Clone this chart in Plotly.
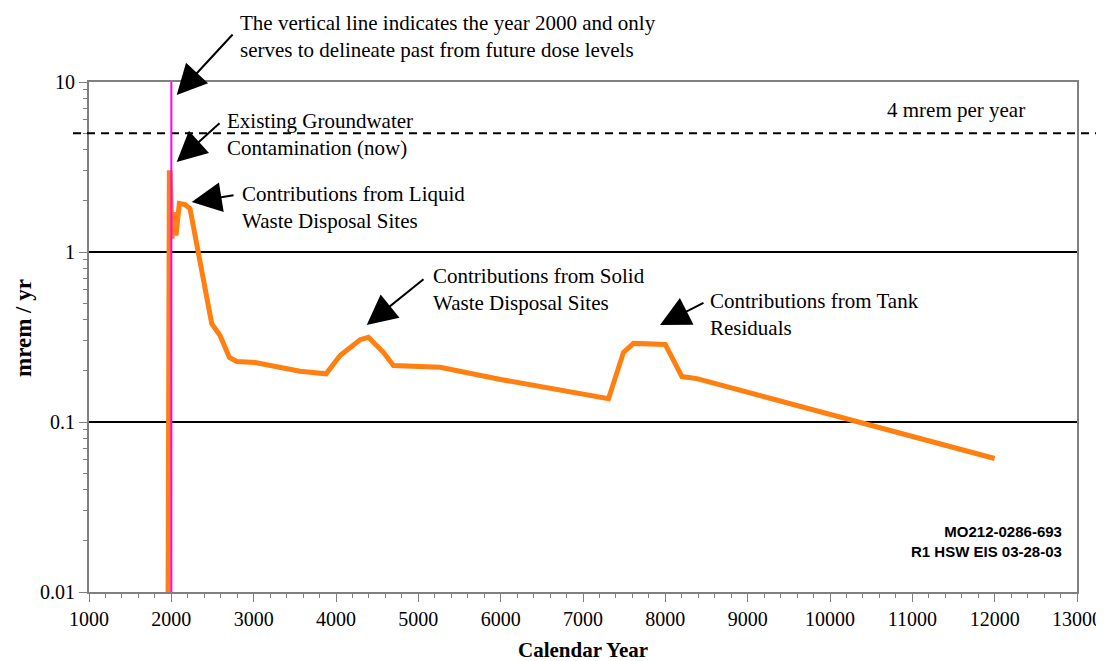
import plotly.graph_objects as go

# ---- data ----
years = [1960, 1962, 1972, 1976, 1985, 2008, 2024, 2057, 2097, 2166, 2227,
         2491, 2592, 2705, 2795, 3017, 3564, 3880, 4050, 4293, 4394, 4576,
         4697, 5265, 6000, 6966, 7310, 7492, 7614, 7999, 8202, 8384, 9517,
         10408, 11000, 12000]
dose = [0.008, 0.032, 0.034, 2.93, 2.93, 1.2, 1.71, 1.25, 1.93, 1.9, 1.8,
        0.378, 0.323, 0.240, 0.227, 0.224, 0.199, 0.192, 0.246, 0.305, 0.315, 0.257,
        0.215, 0.21, 0.178, 0.147, 0.137, 0.257, 0.29, 0.286, 0.185, 0.18, 0.128,
        0.098, 0.082, 0.061]
year_marker = 2000
limit_value = 5
x_ticks = list(range(1000, 14000, 1000))
x_ticktext = [str(v) for v in x_ticks]
y_ticks = [0.01, 0.1, 1, 10]
y_ticktext = ["0.01", "0.1", "1", "10"]

SERIF = "Liberation Serif, Times New Roman, serif"

# page has an 8px body margin; geometry below is in page pixels
OFF = 8
PW, PH = 1104, 661
W, H = PW - OFF, PH - OFF
L, R, T, B = 89, 1077, 82, 592
def px(x):
    return (x - L) / (R - L)
def py(y):
    return (B - y) / (B - T)

fig = go.Figure()
fig.add_trace(go.Scatter(x=years, y=dose, mode="lines",
                         line=dict(color="#ff7f10", width=5),
                         hoverinfo="skip", showlegend=False))

minor_y = [m * 10 ** e for e in (-2, -1, 0) for m in range(2, 10)]

fig.update_layout(
    width=W, height=H,
    margin=dict(l=L - OFF, r=PW - R, t=T - OFF, b=PH - B),
    paper_bgcolor="white", plot_bgcolor="white",
    showlegend=False,
    font=dict(family=SERIF, size=20, color="black"),
    xaxis=dict(range=[1000, 13000], tickvals=x_ticks, ticktext=x_ticktext,
               automargin=False,
               ticks="outside", ticklen=8, tickcolor="#808080", tickwidth=1,
               showline=True, linecolor="#808080", linewidth=2, mirror=True,
               showgrid=False, zeroline=False,
               tickfont=dict(family=SERIF, size=20, color="black"),
               minor=dict(dtick=200, ticks="outside", ticklen=4,
                          tickcolor="#808080", showgrid=False)),
    yaxis=dict(type="log", range=[-2, 1], tickvals=y_ticks, ticktext=y_ticktext,
               automargin=False,
               ticks="outside", ticklen=8, tickcolor="#808080", tickwidth=1,
               showline=True, linecolor="#808080", linewidth=2, mirror=True,
               showgrid=True, gridcolor="black", gridwidth=2, zeroline=False,
               tickfont=dict(family=SERIF, size=20, color="black"),
               minor=dict(tickvals=minor_y, ticks="outside", ticklen=4,
                          tickcolor="#808080", showgrid=False)),
)

# dashed 4 mrem line, extending beyond the plot area
fig.add_shape(type="line", xref="paper", yref="y",
              x0=px(73), x1=px(1110), y0=limit_value, y1=limit_value,
              line=dict(color="black", width=2, dash="8px,6px"), layer="above")
# vertical year-2000 line
fig.add_shape(type="line", xref="x", yref="paper",
              x0=year_marker, x1=year_marker, y0=0, y1=1,
              line=dict(color="#ff00ff", width=2), layer="above")

# text blocks
texts = [
    ("The vertical line indicates the year 2000 and only<br>serves to delineate past from future dose levels", 238, 36),
    ("Existing Groundwater<br>Contamination (now)", 225, 135),
    ("Contributions from Liquid<br>Waste Disposal Sites", 240, 207),
    ("Contributions from Solid<br>Waste Disposal Sites", 431, 289),
    ("Contributions from Tank<br>Residuals", 708, 314),
    ("4 mrem per year", 885, 110),
]
for t, x, y in texts:
    fig.add_annotation(text=t, xref="paper", yref="paper", x=px(x), y=py(y),
                       xanchor="left", yanchor="middle", align="left",
                       showarrow=False,
                       font=dict(family=SERIF, size=21, color="black"))

# arrows: (head_x, head_y, tail_x, tail_y)
arrows = [
    (176.7, 95, 234, 33),
    (176.7, 162, 221, 122),
    (191.7, 202, 235, 195),
    (366.7, 325, 425, 278),
    (660, 325, 705, 302),
]
for hx, hy, tx, ty in arrows:
    fig.add_annotation(text="", xref="paper", yref="paper", x=px(hx), y=py(hy),
                       ax=tx - hx, ay=ty - hy, showarrow=True,
                       arrowhead=2, arrowsize=3, arrowwidth=2, arrowcolor="black")

# ID label
fig.add_annotation(text="<b>MO212-0286-693<br>R1 HSW EIS 03-28-03</b>",
                   xref="paper", yref="paper", x=px(1064), y=py(541),
                   xanchor="right", yanchor="middle", align="right", showarrow=False,
                   font=dict(family="Liberation Sans, Arial, sans-serif", size=15, color="black"))

# axis titles
fig.add_annotation(text="<b>Calendar Year</b>", xref="paper", yref="paper",
                   x=px(583), y=py(650), xanchor="center", yanchor="middle",
                   showarrow=False, font=dict(family=SERIF, size=21, color="black"))
fig.add_annotation(text="<b>mrem / yr</b>", xref="paper", yref="paper",
                   x=px(23), y=py(328), xanchor="center", yanchor="middle",
                   textangle=-90, showarrow=False, borderpad=0,
                   font=dict(family=SERIF, size=23, color="black"))

fig.write_html("out.html")
